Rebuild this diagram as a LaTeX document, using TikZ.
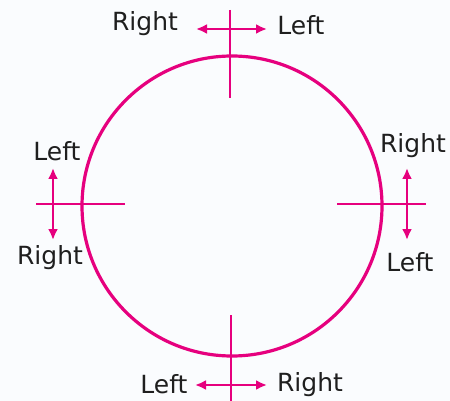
\documentclass[tikz,border=0pt]{standalone}
\usepackage{fontspec}
\setmainfont{DejaVu Sans}
\usetikzlibrary{arrows.meta}
\definecolor{pinkline}{HTML}{E6007E}
\definecolor{paper}{HTML}{FAFCFE}
\tikzset{
  mark line/.style={draw=pinkline,line width=2.6pt},
  dir arrow/.style={draw=pinkline,line width=2.6pt,{Latex[length=11pt,width=10pt]}-{Latex[length=11pt,width=10pt]}},
  side label/.style={font=\fontsize{25}{27}\selectfont,text=black!88,inner sep=0pt}
}
\begin{document}
\begin{tikzpicture}[x=1pt,y=-1pt]
\fill[paper] (0,0) rectangle (450,401);
\useasboundingbox (0,0) rectangle (450,401);
\draw[pinkline,line width=3.2pt] (232,206) circle (150);
% top
\coordinate (t1) at (230,10); \coordinate (t2) at (230,98);
\coordinate (ta) at (196,29); \coordinate (tb) at (267,29);
\draw[mark line] (t1)--(t2);
\draw[dir arrow] (ta)--(tb);
\node[side label] (tr) at (145,24) {Right};
\node[side label] (tl) at (301,25) {Left};
% left
\coordinate (l1) at (36,204); \coordinate (l2) at (125,204);
\coordinate (la) at (53,168); \coordinate (lb) at (53,240);
\draw[mark line] (l1)--(l2);
\draw[dir arrow] (la)--(lb);
\node[side label] (ll) at (57,151) {Left};
\node[side label] (lr) at (50,258) {Right};
% right
\coordinate (r1) at (337,204); \coordinate (r2) at (426,204);
\coordinate (ra) at (407,168); \coordinate (rb) at (407,240);
\draw[mark line] (r1)--(r2);
\draw[dir arrow] (ra)--(rb);
\node[side label] (rr) at (413,146) {Right};
\node[side label] (rl) at (410,262) {Left};
% bottom
\coordinate (b1) at (231,315); \coordinate (b2) at (231,401);
\coordinate (ba) at (195,385); \coordinate (bb) at (267,385);
\draw[mark line] (b1)--(b2);
\draw[dir arrow] (ba)--(bb);
\node[side label] (bl) at (164,384) {Left};
\node[side label] (br) at (310,385) {Right};
\end{tikzpicture}
\end{document}
